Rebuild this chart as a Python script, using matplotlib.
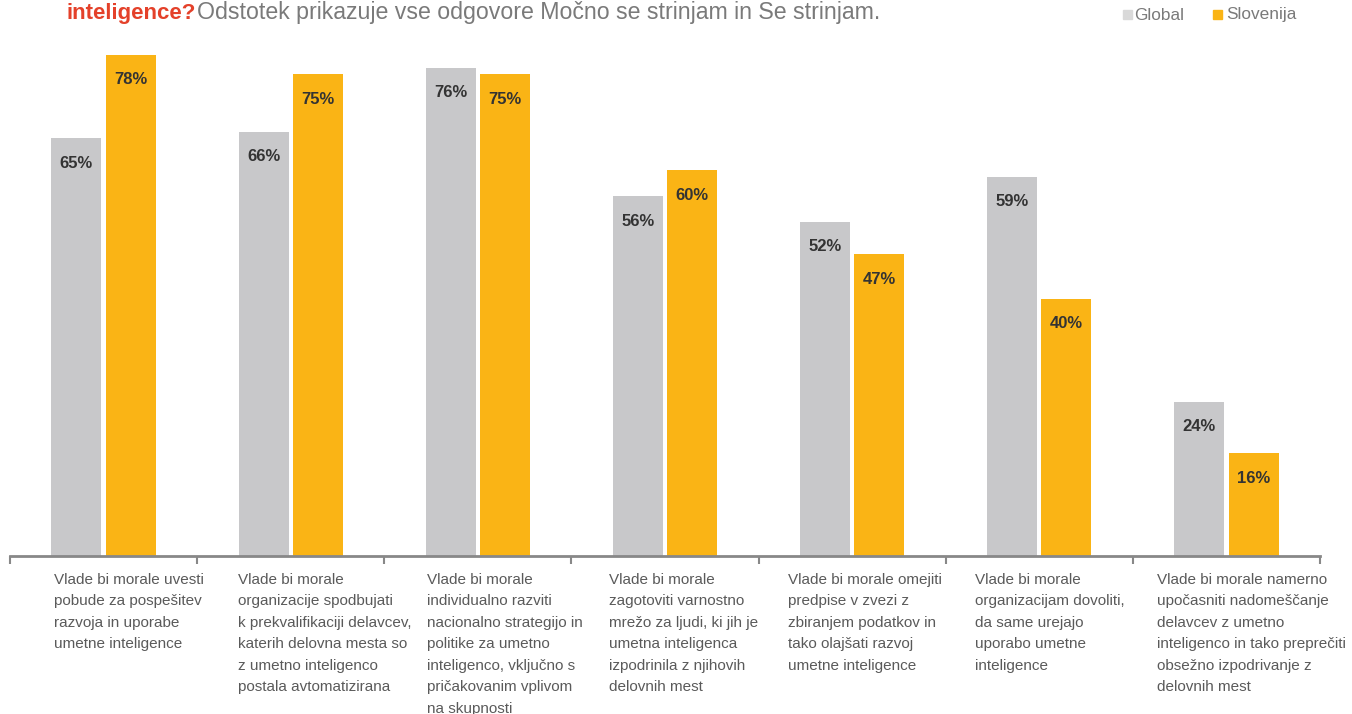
import numpy as np
import matplotlib.pyplot as plt

categories = [
    "Vlade bi morale uvesti\npobude za pospešitev\nrazvoja in uporabe\numetne inteligence",
    "Vlade bi morale\norganizacije spodbujati\nk prekvalifikaciji delavcev,\nkaterih delovna mesta so\nz umetno inteligenco\npostala avtomatizirana",
    "Vlade bi morale\nindividualno razviti\nnacionalno strategijo in\npolitike za umetno\ninteligenco, vključno s\npričakovanim vplivom\nna skupnosti",
    "Vlade bi morale\nzagotoviti varnostno\nmrežo za ljudi, ki jih je\numetna inteligenca\nizpodrinila z njihovih\ndelovnih mest",
    "Vlade bi morale omejiti\npredpise v zvezi z\nzbiranjem podatkov in\ntako olajšati razvoj\numetne inteligence",
    "Vlade bi morale\norganizacijam dovoliti,\nda same urejajo\nuporabo umetne\ninteligence",
    "Vlade bi morale namerno\nupočasniti nadomeščanje\ndelavcev z umetno\ninteligenco in tako preprečiti\nobsežno izpodrivanje z\ndelovnih mest",
]
global_vals = [65, 66, 76, 56, 52, 59, 24]
slovenia_vals = [78, 75, 75, 60, 47, 40, 16]

# horizontal start of each category label, relative to group centre
label_shift = [-0.265, -0.282, -0.272, -0.299, -0.343, -0.344, -0.371]

gray = "#C8C8CA"
orange = "#FAB415"
txt_gray = "#7a7a7a"

plt.rcParams["font.family"] = ["Liberation Sans", "DejaVu Sans"]

fig = plt.figure(figsize=(13.52, 7.14), dpi=100)
ax = fig.add_axes([10 / 1352, 158 / 714, 1310 / 1352, 514 / 714])

x = np.arange(len(categories))
w = 0.267
b1 = ax.bar(x - 0.145, global_vals, width=w, color=gray)
b2 = ax.bar(x + 0.145, slovenia_vals, width=w, color=orange)

for bars, vals in [(b1, global_vals), (b2, slovenia_vals)]:
    for b, v in zip(bars, vals):
        ax.annotate(f"{v}%", (b.get_x() + b.get_width() / 2, v),
                    xytext=(0, -25), textcoords="offset pixels",
                    ha="center", va="center", fontsize=12,
                    fontweight="bold", color="#333333")

ax.set_xlim(-0.5, len(categories) - 0.5)
ax.set_ylim(0, 80)
ax.set_yticks([])
ax.set_xticks(np.arange(len(categories) + 1) - 0.5)
ax.set_xticklabels([])
ax.tick_params(axis="x", direction="out", length=6, width=1.5, color="#888888")
for s in ["top", "right", "left"]:
    ax.spines[s].set_visible(False)
ax.spines["bottom"].set_color("#888888")
ax.spines["bottom"].set_linewidth(2)

for i, c in enumerate(categories):
    ax.text(i + label_shift[i], -2.6, c, ha="left", va="top", fontsize=11,
            color="#5a5a5a", linespacing=1.68)

# title line (first line cut off in the original)
fig.text(67 / 1352, 1 - 13 / 714, "inteligence?", color="#E4412A",
         fontsize=16, fontweight="bold", va="center", ha="left")
fig.text(197 / 1352, 1 - 13 / 714,
         "Odstotek prikazuje vse odgovore Močno se strinjam in Se strinjam.",
         color=txt_gray, fontsize=16.7, va="center", ha="left")

# legend
fig.patches.append(plt.Rectangle((1123 / 1352, 1 - 19 / 714), 9 / 1352, 9 / 714,
                                 transform=fig.transFigure, color="#D9D9D9"))
fig.text(1134 / 1352, 1 - 15 / 714, "Global", color=txt_gray, fontsize=12.4, va="center")
fig.patches.append(plt.Rectangle((1213 / 1352, 1 - 19 / 714), 9 / 1352, 9 / 714,
                                 transform=fig.transFigure, color=orange))
fig.text(1226 / 1352, 1 - 15 / 714, "Slovenija", color=txt_gray, fontsize=12.4, va="center")

fig.savefig("out.png", dpi=100)
